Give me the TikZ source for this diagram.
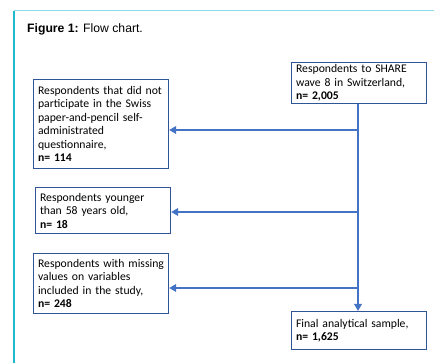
\documentclass[tikz,border=0pt]{standalone}
\usepackage{fontspec}
\setmainfont{Carlito}
\newfontfamily\titlefont{Liberation Sans}
\usetikzlibrary{arrows.meta,positioning}
\definecolor{flowblue}{HTML}{4472C4}
\definecolor{boxblue}{HTML}{2F5597}
\definecolor{framecyan}{HTML}{22B8CF}
\definecolor{framelight}{HTML}{8ADDE8}

\begin{document}
\begin{tikzpicture}[x=1pt,y=-1pt,>={Triangle[length=7pt,width=7.5pt]},
  stagebox/.style={draw=boxblue,line width=1.1pt,anchor=north west,
    text width=126pt,inner xsep=4.5pt,inner ysep=0pt,align=left,
    font=\fontsize{11.7}{13.5}\selectfont},
  flow/.style={draw=flowblue,line width=2.6pt}]
\useasboundingbox (0,0) rectangle (434,363);
% frame
\draw[framelight,line width=1pt] (14,11) -- (434,11);
\draw[framecyan,line width=1.3pt] (14,11) -- (14,363);
\node[anchor=base west,inner sep=0pt,font=\titlefont\fontsize{12.2}{15}\selectfont] (title) at (27,33) {\textbf{Figure 1:} Flow chart.};
% boxes
\node[stagebox,minimum height=41pt] (start) at (291,62) {Respondents to SHARE\\wave 8 in Switzerland,\\\textbf{n= 2,005}};
\node[stagebox,minimum height=89pt] (excl1) at (33,79) {Respondents that did not\\participate in the Swiss\\paper-and-pencil self-\\administrated\\questionnaire,\\\textbf{n= 114}};
\node[stagebox,minimum height=46pt] (excl2) at (35,187) {Respondents younger\\than 58 years old,\\\textbf{n= 18}};
\node[stagebox,minimum height=60pt] (excl3) at (33,253) {Respondents with missing\\values on variables\\included in the study,\\\textbf{n= 248}};
\node[stagebox,minimum height=38pt] (final) at (291,311) {Final analytical sample,\\\textbf{n= 1,625}};
% connectors
\coordinate (j1) at (358,130);
\coordinate (j2) at (358,212);
\coordinate (j3) at (358,288);
\draw[flow,->] (start.south -| j1) -- (final.north -| j1);
\draw[flow,->] (j1) -- (j1 -| excl1.east);
\draw[flow,->] (j2) -- (j2 -| excl2.east);
\draw[flow,->] (j3) -- (j3 -| excl3.east);
\end{tikzpicture}
\end{document}
